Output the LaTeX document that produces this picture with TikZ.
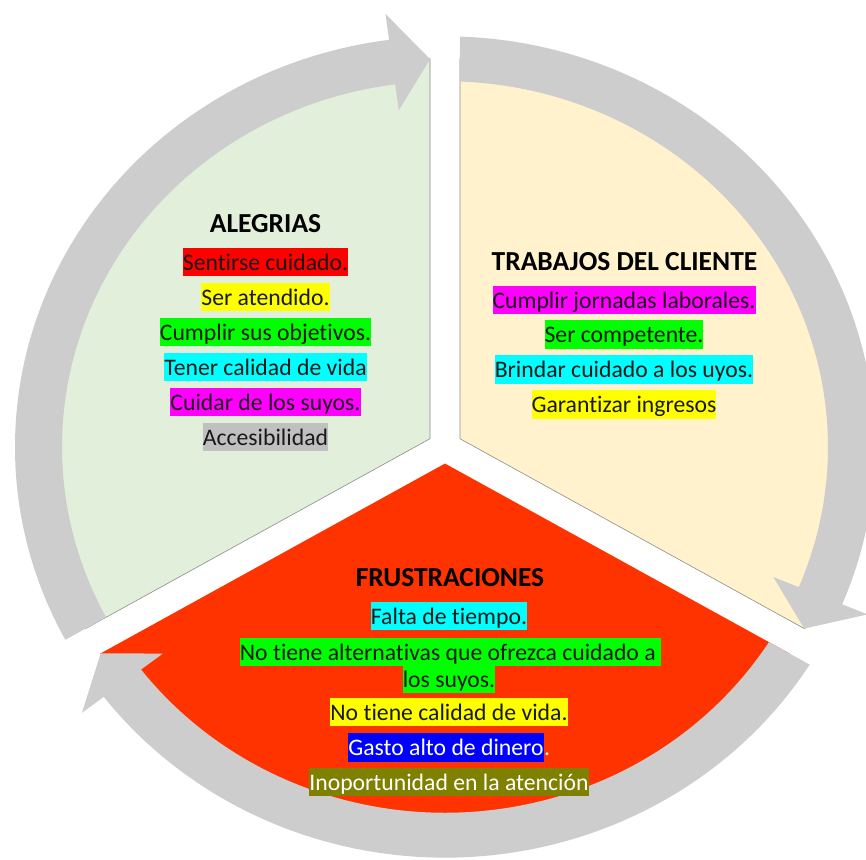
\documentclass[tikz,border=0pt]{standalone}
\usepackage{fontspec}
\setmainfont{Carlito}[Ligatures={NoCommon}]
\newcommand{\bodyfont}{\fontsize{23.7}{27}\selectfont}
\newcommand{\titlefont}{\fontsize{27.5}{31}\selectfont\bfseries}
\definecolor{ringgray}{RGB}{205,205,205}
\definecolor{secgreen}{RGB}{226,239,218}
\definecolor{secyellow}{RGB}{255,242,204}
\definecolor{secred}{RGB}{255,51,0}
\definecolor{hlred}{RGB}{255,0,0}
\definecolor{hlyellow}{RGB}{255,255,0}
\definecolor{hlgreen}{RGB}{0,255,0}
\definecolor{hlcyan}{RGB}{0,255,255}
\definecolor{hlmagenta}{RGB}{255,0,255}
\definecolor{hlgray}{RGB}{192,192,192}
\definecolor{hlblue}{RGB}{0,0,255}
\definecolor{hlolive}{RGB}{128,128,0}
\definecolor{txt}{RGB}{25,25,25}
\definecolor{edgeline}{RGB}{140,140,140}
\begin{document}
\begin{tikzpicture}[x=1pt,y=1pt,
  hl/.style={font=\bodyfont, inner xsep=0pt, inner ysep=0pt, text height=22.5pt, text depth=6.3pt, text=txt},
  ttl/.style={font=\titlefont, inner sep=0pt, anchor=base, text=black},
  ringarc/.style={fill=ringgray, draw=none},
  sector/.style={draw=edgeline, line width=0.6pt}]
\useasboundingbox (-445,-412) rectangle (421,447);
\clip (-445,-412) rectangle (421,447);
\begin{scope}[yscale=0.955]
  % sectors
  \filldraw[sector, fill=secgreen] (-15,8.66) -- (92.11:407) arc[start angle=92.11, end angle=207.89, radius=407] -- cycle;
  \filldraw[sector, fill=secyellow] (15,8.66) -- (87.89:407) arc[start angle=87.89, end angle=-27.89, radius=407] -- cycle;
  \fill[secred] (0,-17.32) -- (-32.11:407) arc[start angle=-32.11, end angle=-147.89, radius=407] -- cycle;
  % ring arrows
  \fill[ringarc] (88.0:430) arc[start angle=88.0, end angle=-22.53, radius=430]
     -- (-22.53:457.5) -- (-27.885:406.5) -- (-22.53:355.5) -- (-22.53:383)
     arc[start angle=-22.53, end angle=87.76, radius=383] -- cycle;
  \fill[ringarc] (-32.0:430) arc[start angle=-32.0, end angle=-142.525, radius=430]
     -- (-142.525:457.5) -- (-147.885:406.5) -- (-142.525:355.5) -- (-142.525:383)
     arc[start angle=-142.525, end angle=-32.245, radius=383] -- cycle;
  \fill[ringarc] (208.0:430) arc[start angle=208.0, end angle=97.475, radius=430]
     -- (97.475:457.5) -- (92.115:406.5) -- (97.475:355.5) -- (97.475:383)
     arc[start angle=97.475, end angle=207.755, radius=383] -- cycle;
\end{scope}
% ALEGRIAS
\node[ttl] (alegrias) at (-179.5,214.5) {ALEGRIAS};
\node[hl, fill=hlred] (a1) at (-179.5,185) {Sentirse cuidado.};
\node[hl, fill=hlyellow] (a2) at (-179.5,150) {Ser atendido.};
\node[hl, fill=hlgreen] (a3) at (-179.5,115) {Cumplir sus objetivos.};
\node[hl, fill=hlcyan] (a4) at (-179.5,80) {Tener calidad de vida};
\node[hl, fill=hlmagenta] (a5) at (-179.5,45) {Cuidar de los suyos.};
\node[hl, fill=hlgray] (a6) at (-179.5,10) {Accesibilidad};
% TRABAJOS
\node[ttl] (trabajos) at (179.5,176.5) {TRABAJOS DEL CLIENTE};
\node[hl, fill=hlmagenta] (t1) at (179,147) {Cumplir jornadas laborales.};
\node[hl, fill=hlgreen] (t2) at (179,112.5) {Ser competente.};
\node[hl, fill=hlcyan] (t3) at (179,77.5) {Brindar cuidado a los uyos.};
\node[hl, fill=hlyellow] (t4) at (179,42.5) {Garantizar ingresos};
% FRUSTRACIONES
\node[ttl] (frust) at (5,-139.7) {FRUSTRACIONES};
\node[hl, fill=hlcyan] (f1) at (4,-169) {Falta de tiempo.};
\node[hl, fill=hlgreen] (f2) at (5.5,-205) {No tiene alternativas que ofrezca cuidado a\kern0.226em};
\node[hl, fill=hlgreen] (f3) at (4,-232) {los suyos.};
\node[hl, fill=hlyellow] (f4) at (4,-265) {No tiene calidad de vida.};
\node[hl, fill=hlblue, text=white] (f5) at (1,-300.5) {Gasto alto de dinero};
\node[font=\bodyfont, inner sep=0pt, anchor=base west, text=white] (f5p) at (f5.base east) {.};
\node[hl, fill=hlolive, text=white] (f6) at (4,-335) {Inoportunidad en la atención};
\end{tikzpicture}
\end{document}
